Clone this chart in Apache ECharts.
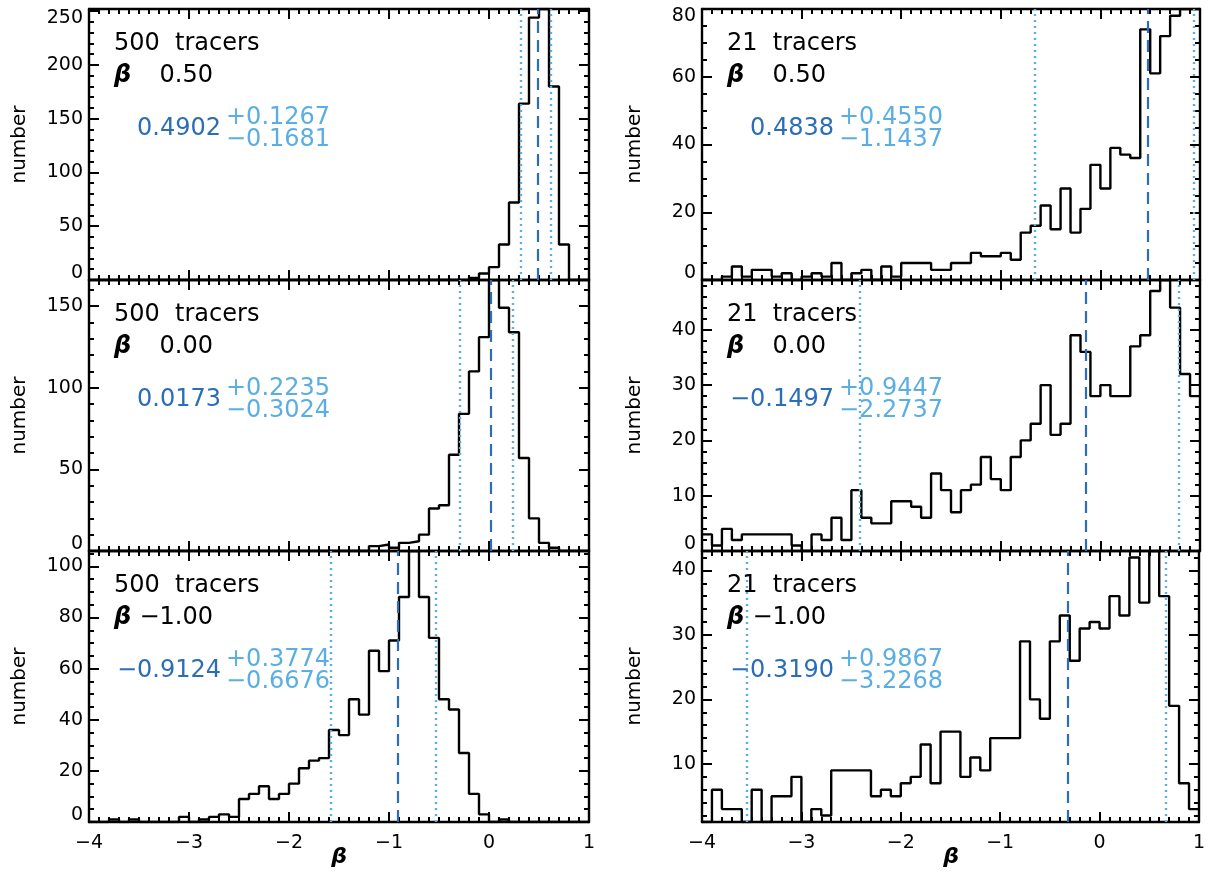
<!DOCTYPE html>
<html><head><meta charset="utf-8">
<script src="https://cdn.jsdelivr.net/npm/echarts@6/dist/echarts.min.js"></script>
<style>html,body{margin:0;padding:0;background:#fff}#c{width:1208px;height:887px}</style>
</head><body><div id="c"></div>
<script>
// ---------------- data (panel order: TL, TR, ML, MR, BL, BR) ----------------
const binStart = -4, binWidth = 0.1;
const xRange = [-4, 1];
const xTickLabels = [-4, -3, -2, -1, 0, 1];
const tracers = [500, 21, 500, 21, 500, 21];
const betaTrue = [0.50, 0.50, 0.00, 0.00, -1.00, -1.00];
const medians = [0.4902, 0.4838, 0.0173, -0.1497, -0.9124, -0.3190];
const errPlus = [0.1267, 0.4550, 0.2235, 0.9447, 0.3774, 0.9867];
const errMinus = [0.1681, 1.1437, 0.3024, 2.2737, 0.6676, 3.2268];

const countsTL = [0,0,0,0,0,0,0,0,0,0, 0,0,0,0,0,0,0,0,0,0, 0,0,0,0,0,0,0,0,0,0, 0,0,0,0,0,0,0,0,2,6, 12,33,72,164,244,252,180,33,0,0];
const countsTR = [0,0,1,4,1,3,3,1,2,0, 1,2,1,5,0,2,3,0,4,1, 5,5,5,3,3,5,5,8,7,7, 8,6,14,16,22,15,27,14,21,34, 27,39,37,36,74,61,72,78,80,80];
const countsML = [0,0,0,0,0,0,0,0,0,0, 0,0,0,0,0,0,0,0,0,0, 0,0,0,0,0,0,0,0,3,4, 2,5,6,10,26,28,59,84,110,131, 166,149,134,57,20,5,2,0,0,0];
const countsMR = [3,1,4,2,3,3,3,3,3,1, 0,3,2,6,2,11,6,5,5,9, 9,8,6,14,11,7,11,12,17,13, 11,17,20,23,30,21,23,39,36,28, 30,28,28,37,39,47,49,44,32,28];
const countsBL = [0,0,1,0,1,0,0,0,0,2, 0,1,2,3,2,9,11,14,9,11, 15,21,24,25,36,34,48,42,67,59, 71,88,106,88,72,48,44,27,11,3, 0,1,0,0,0,0,0,0,0,0];
const countsBR = [1,6,3,3,1,6,1,5,5,8, 1,3,2,9,9,9,9,5,6,5, 7,8,13,7,15,15,8,11,9,14, 14,14,29,20,17,29,33,26,31,32, 31,36,33,42,35,43,36,19,7,3];
const allCounts = [countsTL, countsTR, countsML, countsMR, countsBL, countsBR];
const yMajorStep = [50, 20, 50, 10, 20, 10];
const yMinorStep = [10, 5, 10, 2, 5, 2];

// ---------------- layout / style ----------------
const FONT = 'DejaVu Sans';
const DARK = '#2b6db7', LIGHT = '#5aaee3';
const colLeft = [89, 702], colWidth = [500, 498];
const rowTop = [9, 280, 551], rowH = 271;
const fmt = (v, d) => (v < 0 ? '\u2212' : '') + Math.abs(v).toFixed(d);

function range(lo, hi, step) {
  const out = []; const s = Math.ceil(lo / step - 1e-9);
  for (let k = s; k * step <= hi + 1e-9; k++) out.push(+(k * step).toFixed(6));
  return out;
}
const xMajor = xTickLabels.slice();
const xMinor = range(xRange[0], xRange[1], 0.1).filter(v => Math.abs(v - Math.round(v)) > 1e-6);

const grids = [], xAxes = [], yAxes = [], series = [], graphics = [];
const black = '#000';
const LW = 2.4;

allCounts.forEach((counts, i) => {
  const row = Math.floor(i / 2), col = i % 2;
  const left = colLeft[col], width = colWidth[col], top = rowTop[row];
  grids.push({ left, top, width, height: rowH, containLabel: false });
  const lo = Math.min(...counts), hi = Math.max(...counts);
  const yMaj = range(lo, hi, yMajorStep[i]);
  const yMin = range(lo, hi, yMinorStep[i]).filter(v => Math.abs(v / yMajorStep[i] - Math.round(v / yMajorStep[i])) > 1e-6);
  const isBottom = row === 2;

  const xb = { type: 'value', gridIndex: i, min: xRange[0], max: xRange[1], splitLine: { show: false } };
  const tickMaj = (vals) => ({ show: true, inside: true, length: 10, customValues: vals, lineStyle: { color: black, width: 2 } });
  const tickMin = (vals) => ({ show: true, inside: true, length: 5, customValues: vals, lineStyle: { color: black, width: 2 } });
  const line = { show: true, onZero: false, lineStyle: { color: black, width: LW } };
  const noLine = { show: false, onZero: false };

  const xi = xAxes.length;
  xAxes.push(Object.assign({}, xb, {
    position: 'bottom', axisLine: line, axisTick: tickMaj(xMajor),
    axisLabel: { show: isBottom, customValues: xMajor, formatter: v => fmt(v, 0), fontFamily: FONT, fontSize: 19, color: black, margin: 12 }
  }));
  xAxes.push(Object.assign({}, xb, { position: 'bottom', axisLine: noLine, axisTick: tickMin(xMinor), axisLabel: { show: false } }));
  xAxes.push(Object.assign({}, xb, { position: 'top', axisLine: line, axisTick: tickMaj(xMajor), axisLabel: { show: false } }));
  xAxes.push(Object.assign({}, xb, { position: 'top', axisLine: noLine, axisTick: tickMin(xMinor), axisLabel: { show: false } }));

  const yb = { type: 'value', gridIndex: i, min: lo, max: hi, splitLine: { show: false } };
  const rs = { fontFamily: FONT, fontSize: 19, color: black };
  const yi = yAxes.length;
  yAxes.push(Object.assign({}, yb, {
    position: 'left', axisLine: line, axisTick: tickMaj(yMaj),
    axisLabel: {
      show: true, customValues: yMaj, margin: 6, fontFamily: FONT, fontSize: 19, color: black,
      formatter: v => {
        const r = hi - lo;
        if ((v - lo) / r < 0.03) return '{b|' + v + '}';
        if ((hi - v) / r < 0.03) return '{t|' + v + '}';
        return '{n|' + v + '}';
      },
      rich: { n: rs, t: Object.assign({ padding: [14, 0, 0, 0] }, rs), b: Object.assign({ padding: [0, 0, 14, 0] }, rs) }
    }
  }));
  yAxes.push(Object.assign({}, yb, { position: 'left', axisLine: noLine, axisTick: tickMin(yMin), axisLabel: { show: false } }));
  yAxes.push(Object.assign({}, yb, { position: 'right', axisLine: line, axisTick: tickMaj(yMaj), axisLabel: { show: false } }));
  yAxes.push(Object.assign({}, yb, { position: 'right', axisLine: noLine, axisTick: tickMin(yMin), axisLabel: { show: false } }));

  // histogram as step line through bin edges
  const pts = counts.map((c, k) => [+(binStart + k * binWidth).toFixed(4), c]);
  pts.push([+(binStart + counts.length * binWidth).toFixed(4), counts[counts.length - 1]]);
  const med = medians[i];
  series.push({
    type: 'line', xAxisIndex: xi, yAxisIndex: yi, data: pts, step: 'end',
    showSymbol: false, symbol: 'none', silent: true, z: 3,
    lineStyle: { color: black, width: LW },
    markLine: {
      silent: true, symbol: ['none', 'none'], label: { show: false }, animation: false,
      data: [
        { xAxis: med, lineStyle: { color: DARK, width: 2.2, type: [12, 7] } },
        { xAxis: med - errMinus[i], lineStyle: { color: LIGHT, width: 2.4, type: [2, 4] } },
        { xAxis: med + errPlus[i], lineStyle: { color: LIGHT, width: 2.4, type: [2, 4] } }
      ]
    }
  });

  // annotations
  const txt = (x, y, text, extra) => graphics.push({
    type: 'text', x, y, silent: true, z: 10,
    style: Object.assign({ text, fill: black, fontFamily: FONT, fontSize: 24, align: 'left', textAlign: 'left', verticalAlign: 'middle', textVerticalAlign: 'middle' }, extra || {})
  });
  txt(left + 25, top + 35, tracers[i] + '  tracers');
  txt(left + 25, top + 67, '\u03b2', { fontWeight: 'bold', fontStyle: 'italic' });
  txt(left + 124, top + 67, fmt(betaTrue[i], 2), { align: 'right', textAlign: 'right' });
  txt(left + 132, top + 120, fmt(med, 4), { align: 'right', textAlign: 'right', fill: DARK });
  txt(left + 137, top + 109, '+' + errPlus[i].toFixed(4), { fill: LIGHT });
  txt(left + 137, top + 131, '\u2212' + errMinus[i].toFixed(4), { fill: LIGHT });
  // y axis title
  graphics.push({
    type: 'text', x: left - (col ? 67 : 69), y: top + rowH / 2, rotation: Math.PI / 2, silent: true,
    style: { text: 'number', fill: black, fontFamily: FONT, fontSize: 20, align: 'center', textAlign: 'center', verticalAlign: 'middle', textVerticalAlign: 'middle' }
  });
  if (isBottom) {
    graphics.push({
      type: 'text', x: left + width / 2, y: top + rowH + 35, silent: true,
      style: { text: '\u03b2', fill: black, fontFamily: FONT, fontSize: 22, fontWeight: 'bold', fontStyle: 'italic', align: 'center', textAlign: 'center', verticalAlign: 'middle', textVerticalAlign: 'middle' }
    });
  }
});

const chart = echarts.init(document.getElementById('c'), null, { renderer: 'canvas' });
chart.setOption({
  animation: false,
  backgroundColor: '#fff',
  grid: grids, xAxis: xAxes, yAxis: yAxes, series, graphic: graphics
});
</script>
</body></html>
